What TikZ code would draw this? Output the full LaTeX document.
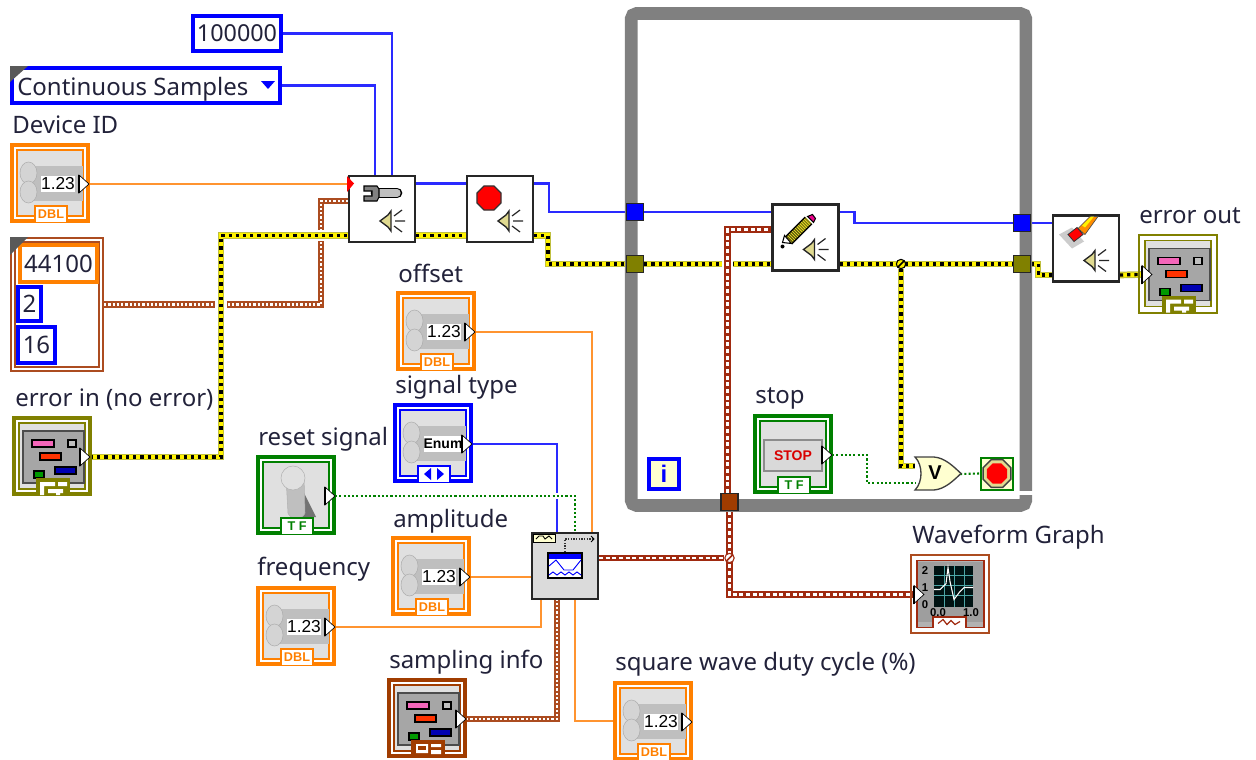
\documentclass[tikz,border=0pt]{standalone}
\usepackage{xcolor}
\usepackage{fontspec}
\setmainfont{Noto Sans}
\newfontfamily\iconfont{Liberation Sans}
\usepackage{tikz}
\usetikzlibrary{arrows.meta,positioning,backgrounds}
\definecolor{txtcol}{HTML}{22223A}
\definecolor{dblcol}{HTML}{FF8000}
\definecolor{dblwire}{HTML}{FF9430}
\definecolor{intcol}{HTML}{0000FF}
\definecolor{intwire}{HTML}{2A2AFF}
\definecolor{boolcol}{HTML}{008000}
\definecolor{errcol}{HTML}{808000}
\definecolor{errwire}{HTML}{C0C040}
\definecolor{clucol}{HTML}{A03C00}
\definecolor{clulite}{HTML}{AC4C20}
\definecolor{wavecol}{HTML}{A02A10}
\definecolor{panel}{HTML}{E0E0E0}
\definecolor{frame}{HTML}{808080}
\definecolor{cream}{HTML}{FFFFD0}
\definecolor{spkcol}{HTML}{E0DA90}

% frame of a front panel terminal
\newcommand{\ctlbase}[5][ctl]{%
  \node[#1,draw=#5] (#2) at (#3+40,#4+40) {};
  \draw[draw=#5,line width=1.3pt,fill=panel] (#3+7,#4+7) rectangle (#3+73,#4+73);}
% out and in triangles, local coordinates
\newcommand{\outtri}[2]{%
  \draw[fill=white,draw=black,line width=.5pt] (#1,#2-9) -- (#1+10,#2) -- (#1,#2+9) -- cycle;
  \draw[black,line width=1.5pt] (#1,#2-9) -- (#1,#2+9);}
\newcommand{\tabbox}[3]{%
  \draw[fill=white,draw=#1,line width=1.5pt] (25,79) -- (25,63) -- (57,63) -- (57,79);
  \node[tabtxt,text=#1] (#2) at (41,71.5) {#3};}
\newcommand{\knobico}{%
  \fill[black!25] (18,23) rectangle (73,58);
  \draw[black!32,fill=black!17] (18.5,30) ellipse (8.5 and 11);
  \draw[black!32,fill=black!17] (18.5,49) ellipse (8.5 and 11);}
% numeric control
\newcommand{\numctl}[4]{%
  \ctlbase{#1}{#2}{#3}{#4}
  \begin{scope}[shift={(#2,#3)}]
    \knobico
    \node[numbox] (#1val) at (48,41) {1.23};
    \outtri{69}{41}
    \tabbox{#4}{#1tab}{DBL}
    \coordinate (#1out) at (79,41);
  \end{scope}}
% cluster icon
\newcommand{\clusico}[1]{%
  \draw[black!70,fill=black!35,line width=1pt] (11,15) rectangle (72,67);
  \draw[black,fill=magenta!60,line width=.8pt] (20,24) rectangle (42,31);
  \draw[black,fill=black!25,line width=.8pt] (56,24) rectangle (64,31);
  \draw[black,fill=red!60!orange,line width=.8pt] (28,37) rectangle (49,44);
  \draw[black,fill=green!60!black,line width=.8pt] (22,55) rectangle (32,62);
  \draw[black,fill=blue!70!black,line width=.8pt] (43,51) rectangle (64,58);
  \draw[fill=#1,draw=#1,line width=1pt] (25,79) -- (25,63) -- (57,63) -- (57,79);}
\newcommand{\errglyph}{%
  \fill[white] (28,66) rectangle (43,70) (46,66) rectangle (55,70) (28,66) rectangle (32,79) (36,73) rectangle (51,77) (44,73) rectangle (48,79);}
% VI with its picture given as last argument
\newcommand{\funcbox}[5]{%
  \node[func,fill=#4] (#1) at (#2+34,#3+34) {};
  \begin{scope}[shift={(#2,#3)}]
    #5
    \coordinate (#1ia) at (0,8.5);
    \coordinate (#1ib) at (0,60.5);
    \coordinate (#1ic) at (0,26);
    \coordinate (#1oa) at (68,8.5);
    \coordinate (#1ob) at (68,60.5);
    \coordinate (#1oc) at (68,26);
  \end{scope}}
\newcommand{\spkico}{%
  \draw[black!85,fill=spkcol,line width=1pt] (32,46) -- (40,40) -- (43,36) -- (43,56) -- (40,52) -- cycle;
  \draw[black!85,line width=.9pt] (47,46) -- (57,46) (46,41) -- (54,35) (46,51) -- (54,57);}

\begin{document}
\begin{tikzpicture}[
  x=.75pt,y=-.75pt,
  font=\fontsize{18}{21}\selectfont,
  lbl/.style={anchor=base west,inner sep=0pt,text=txtcol},
  ctl/.style={line width=3pt,minimum size=57pt,inner sep=0pt},
  ind/.style={line width=1.5pt,minimum size=58.5pt,inner sep=0pt},
  func/.style={draw=black!85,line width=1.6pt,minimum size=49.5pt,inner sep=0pt},
  cst/.style={draw=intcol,line width=3pt,fill=white,inner sep=0pt,text=txtcol},
  tun/.style={draw=black!85,line width=1.2pt,minimum size=12.5pt,inner sep=0pt},
  whileloop/.style={draw=frame,line width=9.5pt,rounded corners=4pt,minimum width=296pt,minimum height=369pt,inner sep=0pt},
  numbox/.style={fill=white,font=\iconfont\fontsize{13}{15}\selectfont,inner sep=0pt,minimum width=24pt,minimum height=12pt},
  tabtxt/.style={font=\iconfont\bfseries\fontsize{9.5}{11}\selectfont,inner sep=0pt},
  jct/.style={circle,line width=.8pt,minimum size=7pt,inner sep=0pt},
  dblw/.style={draw=dblwire,line width=1.7pt},
  intw/.style={draw=intwire,line width=1.7pt},
  boolw/.style={draw=boolcol,line width=1.6pt,dash pattern=on 1.6pt off 1.6pt},
  boolgap/.style={preaction={draw=white,line width=4.5pt,solid}},
  errw/.style={draw=errwire,line width=5pt,
    postaction={draw=yellow,line width=3.2pt},
    postaction={draw=black,line width=2.4pt,dash pattern=on 2.4pt off 3pt}},
  errgap/.style={preaction={draw=white,line width=8.5pt}},
  cluw/.style={draw=clulite,line width=5pt,
    postaction={draw=white,line width=1.7pt,dash pattern=on 1.7pt off 1.5pt}},
  wavew/.style={draw=wavecol,line width=5pt,
    postaction={draw=white,line width=1.6pt,dash pattern=on 3pt off 2pt}},
  wavegap/.style={preaction={draw=white,line width=8.5pt}},
]
\useasboundingbox (0,0) rectangle (1256,760);

% constants
\node[cst,minimum width=66pt,minimum height=26pt] (rate) at (237,33.5) {\fontsize{17.5}{20}\selectfont 100000};
\node[cst,minimum width=201pt,minimum height=26pt] (mode) at (146,85.5) {};
\node[lbl] (modetxt) at (17,95) {Continuous Samples};
\fill[intcol] (261,81) -- (275,81) -- (268,89) -- cycle;
\fill[black!65] (10,66) -- (28,66) -- (10,82) -- cycle;

% cluster constant
\node[draw=clulite,line width=1.5pt,fill=white,minimum width=69pt,minimum height=100pt,inner sep=0pt] (audio) at (57,304.5) {};
\draw[clulite,line width=1.2pt] (15,242) rectangle (99,367);
\node[cst,draw=dblcol,minimum width=58pt,minimum height=28pt] (srate) at (58.5,263.5) {44100};
\node[cst,minimum width=17pt,minimum height=26pt] (chans) at (29.5,304) {2};
\node[cst,minimum width=27.5pt,minimum height=27pt] (bits) at (36.5,345) {16};
\fill[black!65] (10,237) -- (28,237) -- (10,255) -- cycle;

% controls
\node[lbl] (devlbl) at (12,133) {Device ID};
\numctl{dev}{10}{143}{dblcol}
\node[lbl] (offlbl) at (398,282) {offset};
\numctl{off}{396}{291}{dblcol}
\node[lbl] (amplbl) at (393,527) {amplitude};
\numctl{amp}{391}{536}{dblcol}
\node[lbl] (freqlbl) at (257,575) {frequency};
\numctl{freq}{256}{586}{dblcol}
\node[lbl] (dutylbl) at (615,670) {square wave duty cycle (\%)};
\numctl{duty}{613}{681}{dblcol}

\node[lbl] (typelbl) at (395,393) {signal type};
\ctlbase{sigtype}{393}{403}{intcol}
\begin{scope}[shift={(393,403)}]
  \knobico
  \node[numbox,minimum width=27pt,font=\iconfont\bfseries\fontsize{10.5}{12}\selectfont] (sigtypeval) at (50,41) {Enum};
  \outtri{69}{41}
  \draw[fill=white,draw=intcol,line width=1.5pt] (25,79) -- (25,63) -- (57,63) -- (57,79);
  \fill[intcol] (38,65) -- (38,77) -- (31,71) -- cycle (44,65) -- (44,77) -- (51,71) -- cycle;
  \coordinate (sigtypeout) at (79,41);
\end{scope}

\node[lbl] (resetlbl) at (258,445) {reset signal};
\ctlbase{reset}{256}{455}{boolcol}
\begin{scope}[shift={(256,455)}]
  \fill[black!55] (45,32) -- (60,62) -- (38,62) -- cycle;
  \draw[black!30,fill=black!25] (30,22) -- (48,22) -- (49,58) .. controls (47,65) and (34,65) .. (32,58) -- cycle;
  \draw[black!30,fill=black!12] (37,23) circle (12);
  \outtri{69}{41}
  \tabbox{boolcol}{resettab}{T F}
  \coordinate (resetout) at (79,41);
\end{scope}

\node[lbl] (stoplbl) at (755,403) {stop};
\ctlbase{stopb}{753}{414}{boolcol}
\begin{scope}[shift={(753,414)}]
  \draw[black!45,fill=black!15,line width=2pt] (11,26) rectangle (69,57);
  \node[inner sep=0pt,text=red!85!black,font=\iconfont\bfseries\fontsize{10.5}{12}\selectfont] (stoptxt) at (40,41.5) {STOP};
  \outtri{69}{41}
  \tabbox{boolcol}{stoptab}{T F}
  \coordinate (stopout) at (79,41);
\end{scope}

\node[lbl] (errinlbl) at (15,406) {error in (no error)};
\ctlbase{errin}{12}{416}{errcol}
\begin{scope}[shift={(12,416)}]
  \clusico{errcol}
  \errglyph
  \outtri{68}{41}
  \coordinate (errinout) at (78,41);
\end{scope}

\node[lbl] (samplbl) at (389,668) {sampling info};
\ctlbase{samp}{387}{678}{clucol}
\begin{scope}[shift={(387,678)}]
  \clusico{clucol}
  \fill[white] (29,66) rectangle (41,75) (44,66) rectangle (54,69) (44,72) rectangle (54,76);
  \fill[clucol] (31,68) rectangle (39,72);
  \outtri{69}{41}
  \coordinate (sampout) at (79,41);
\end{scope}

% indicators
\node[lbl] (erroutlbl) at (1139,223) {error out};
\ctlbase[ind]{errout}{1138}{233.5}{errcol}
\begin{scope}[shift={(1138,233.5)}]
  \clusico{errcol}
  \errglyph
  \outtri{4}{41}
  \coordinate (errouti) at (4,41);
\end{scope}

\node[lbl] (graphlbl) at (912,543) {Waveform Graph};
\ctlbase[ind]{graph}{910}{553.5}{clulite}
\begin{scope}[shift={(910,553.5)}]
  \draw[wavecol,line width=1.4pt,fill=black!30] (7,7) rectangle (74,74);
  \fill[black!38] (8,8) rectangle (73,68);
  \fill[black!85!teal] (24,12) rectangle (63,53);
  \draw[teal!70,line width=.6pt] (34,12) -- (34,53) (44,12) -- (44,53) (54,12) -- (54,53) (24,22) -- (63,22) (24,32) -- (63,32) (24,42) -- (63,42);
  \draw[white,line width=.8pt] (24,36) -- (30,36) -- (36,30) -- (38,14) -- (40,28) -- (44,46) -- (50,38) -- (54,34) -- (63,34);
  \node[inner sep=0pt,font=\iconfont\bfseries\fontsize{8.5}{10}\selectfont] (gy2) at (15,17) {2};
  \node[inner sep=0pt,font=\iconfont\bfseries\fontsize{8.5}{10}\selectfont] (gy1) at (15,34) {1};
  \node[inner sep=0pt,font=\iconfont\bfseries\fontsize{8.5}{10}\selectfont] (gy0) at (15,51) {0};
  \node[inner sep=0pt,font=\iconfont\bfseries\fontsize{8.5}{10}\selectfont] (gx0) at (28,59) {0.0};
  \node[inner sep=0pt,font=\iconfont\bfseries\fontsize{8.5}{10}\selectfont] (gx1) at (61,59) {1.0};
  \draw[fill=white,draw=wavecol,line width=1.5pt] (23,74) -- (23,63) -- (56,63) -- (56,74);
  \draw[wavecol,line width=.9pt] (28,70) -- (33,66) -- (37,71) -- (41,67) -- (45,71) -- (50,68);
  \outtri{4}{41}
  \coordinate (graphin) at (4,41);
\end{scope}

% loop frame, with its tunnels
\node[whileloop] (loop) at (828.5,259.5) {};
\fill[white] (1018,490.5) rectangle (1034,495);
\node[tun,fill=intcol] (tunbl) at (635,212) {};
\node[tun,fill=errcol] (tuner) at (635,264) {};
\node[tun,fill=intcol] (tunbr) at (1022,223) {};
\node[tun,fill=errcol] (tunrr) at (1022,264) {};
\node[tun,fill=clucol] (tunwf) at (729.5,502) {};
\node[draw=intcol,line width=3pt,fill=cream,minimum size=22.5pt,inner sep=0pt,text=intcol,font=\iconfont\bfseries\fontsize{18}{20}\selectfont] (iter) at (664,474) {i};

% nodes on the wires
\funcbox{cfg}{348}{175}{white}{%
  \spkico
  \draw[black,line width=8pt,line cap=round] (28,18) -- (49,18);
  \draw[black!25,line width=5.5pt,line cap=round] (28,18) -- (49,18);
  \draw[black,fill=black!50,line width=.8pt] (16,11) -- (29,11) -- (31,14) -- (31,22) -- (29,26) -- (16,26) -- (16,21) -- (24,21) -- (24,16) -- (16,16) -- cycle;
  \fill[red] (-1,1) -- (6,8.5) -- (-1,17) -- cycle;
}
\funcbox{start}{466}{175}{white}{%
  \spkico
  \draw[black!80,fill=red,line width=1pt,shift={(23,23)}] (22.5:13) -- (67.5:13) -- (112.5:13) -- (157.5:13) -- (202.5:13) -- (247.5:13) -- (292.5:13) -- (337.5:13) -- cycle;
}
\funcbox{wri}{771.5}{203.5}{white}{%
  \spkico
  \draw[black,line width=8pt] (17,37) -- (37,17);
  \draw[yellow!85!black,line width=6pt,dash pattern=on 1pt off .6pt] (17,37) -- (37,17);
  \draw[black,fill=magenta,line width=.8pt] (36,13) -- (41,11) -- (44,15) -- (42,19) -- cycle;
  \draw[black,fill=white,line width=.8pt] (11,39) -- (13,32) -- (20,40) -- cycle;
  \fill[black] (11,43) circle (2);
}
\funcbox{clr}{1052}{214.5}{white}{%
  \spkico
  \fill[black!20] (7,20) -- (20,13) -- (32,27) -- (20,34) -- cycle;
  \draw[black!70,fill=orange!90!yellow,line width=.5pt] (26,14) -- (38,2) -- (46,2) -- (33,20) -- cycle;
  \fill[yellow] (30,11) -- (39,2) -- (42,2) -- (33,13) -- cycle;
  \draw[black!80,fill=red,line width=.6pt] (16,20) -- (25,13) -- (31,20) -- (22,27) -- cycle;
}
\funcbox{gen}{531}{532}{black!14}{%
  \draw[black,fill=cream,line width=.7pt] (2,2) rectangle (24,10);
  \draw[black,line width=.7pt] (5,7) -- (8,4) -- (12,4) -- (14,7) -- (18,4) -- (21,7);
  \draw[black!80,line width=1pt,dash pattern=on 1pt off 1pt] (34,20) -- (34,7) -- (63,7);
  \draw[black,line width=.7pt] (60,4) -- (63,7) -- (60,10);
  \draw[black,fill=white,line width=1pt] (17,21) rectangle (51,46);
  \fill[intcol] (18,22) rectangle (50,27);
  \draw[intcol,line width=.7pt] (18,34) -- (25,28) -- (33,38) -- (42,38) -- (50,28) (18,43) -- (22,40) -- (26,43) -- (30,40) -- (34,43) -- (38,40) -- (42,43) -- (46,40) -- (50,43);
}

% OR gate and stop terminal
\draw[fill=cream,draw=black!75,line width=1pt] (915,457) -- (934,457) .. controls (945,458) and (953,466) .. (961,473.5) .. controls (953,481) and (945,489) .. (934,490) -- (915,490) .. controls (923,482) and (923,465) .. (915,457) -- cycle;
\node[inner sep=0pt,font=\iconfont\bfseries\fontsize{15}{17}\selectfont] (orgate) at (935,473) {V};
\coordinate (orina) at (915,466);
\coordinate (orinb) at (915,483);
\coordinate (orout) at (960,474);
\node[draw=boolcol,line width=1.5pt,fill=cream,minimum size=24pt,inner sep=0pt] (cond) at (997,473.5) {};
\draw[black!75,fill=spkcol,line width=1.1pt,shift={(997,473.5)}] (22.5:15) -- (67.5:15) -- (112.5:15) -- (157.5:15) -- (202.5:15) -- (247.5:15) -- (292.5:15) -- (337.5:15) -- cycle;
\fill[red,shift={(997,473.5)}] (22.5:11) -- (67.5:11) -- (112.5:11) -- (157.5:11) -- (202.5:11) -- (247.5:11) -- (292.5:11) -- (337.5:11) -- cycle;

% junctions
\node[jct,draw=black,fill=yellow] (errjct) at (901,264) {};
\draw[black,line width=1.2pt] (898,267) -- (904,261);
\node[jct,draw=wavecol,fill=white] (wavejct) at (729.5,558) {};
\draw[wavecol,line width=1.2pt] (726.5,561) -- (732.5,555);

% wires
\begin{scope}[on background layer]
\draw[intw] (rate.east) -| ([shift={(10,0)}]cfg.north);
\draw[intw] (mode.east) -| ([shift={(-7,0)}]cfg.north);
\draw[dblw] (devout) -- (devout -| cfg.west);
\draw[cluw] (audio.east) -- ++(217,0) |- (cfgic);
\draw[errw,errgap] (errinout) -- ++(131,0) |- (cfgib);
\draw[intw] (cfgoa) -- (startia);
\draw[errw] (cfgob) -- (startib);
\draw[intw] (startoa) -- ++(15,0) |- (tunbl.west);
\draw[errw] (startob) -- ++(14,0) |- (tuner.west);
\draw[intw] (tunbl.east) -- (wriia);
\draw[errw] (tuner.east) -- (wriib);
\draw[wavew,wavegap] ([shift={(-2,0)}]tunwf.north) |- (wriic);
\draw[intw] (wrioa) -- ++(15,0) |- (tunbr.west);
\draw[errw] (wriob) -- (tunrr.west);
\draw[errw] (errjct) |- (orina);
\draw[intw] (tunbr.east) -- (clria);
\draw[errw] (tunrr.east) -- ++(7,0) |- (clrib);
\draw[errw] (clrob) -- (errouti);
\draw[boolw] (stopout) -- ++(35,0) |- (orinb);
\draw[boolw] (orout) -- (cond.west);
\draw[dblw] (offout) -| ([shift={(27,0)}]gen.north);
\draw[intw] (sigtypeout) -| ([shift={(-8,0)}]gen.north);
\draw[boolw,boolgap] (resetout) -| ([shift={(10,0)}]gen.north);
\draw[dblw] (ampout) -- (ampout -| gen.west);
\draw[dblw] (freqout) -| ([shift={(-24,0)}]gen.south);
\draw[cluw] (sampout) -| ([shift={(-8,0)}]gen.south);
\draw[dblw] ([shift={(10,0)}]gen.south) |- (duty.west);
\draw[wavew] (genoc) -- (wavejct.west);
\draw[wavew] (tunwf.south) |- (graphin);
\end{scope}
\end{tikzpicture}
\end{document}
